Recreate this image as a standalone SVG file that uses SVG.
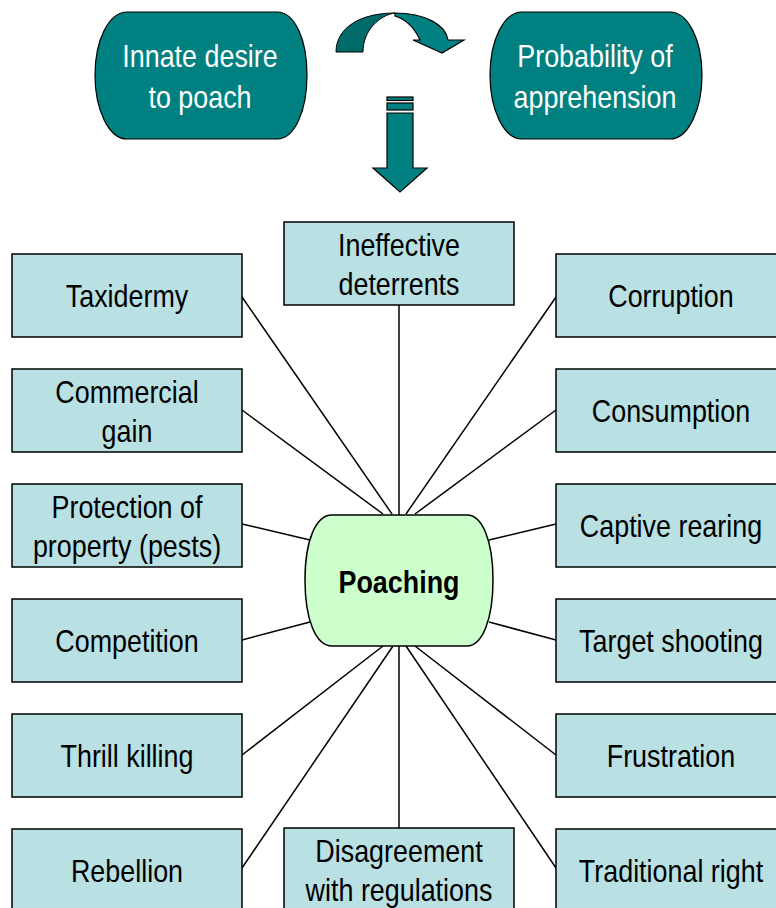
<svg xmlns="http://www.w3.org/2000/svg" width="776" height="908" viewBox="0 0 776 908">
<style>
.box{fill:#B9E0E3;stroke:#000;stroke-width:1.5}
.teal{fill:#008080;stroke:#000;stroke-width:1.2}
.dark{fill:#006A6A;stroke:#000;stroke-width:1}
.t{font-family:"Liberation Sans",Arial,sans-serif;font-size:32px;text-anchor:middle;fill:#000}
.w{fill:#fff}
.b{font-weight:bold}
#connectors line{stroke:#000;stroke-width:1.5}
</style>
<rect width="776" height="908" fill="#fff"/>

<g id="connectors">
<line x1="242" y1="297" x2="392" y2="514"/>
<line x1="242" y1="410" x2="383" y2="514"/>
<line x1="242" y1="524" x2="310" y2="540"/>
<line x1="242" y1="640" x2="310" y2="622"/>
<line x1="242" y1="755" x2="383" y2="646"/>
<line x1="242" y1="868" x2="393" y2="646"/>
<line x1="556" y1="297" x2="406" y2="514"/>
<line x1="556" y1="410" x2="415" y2="514"/>
<line x1="556" y1="524" x2="489" y2="540"/>
<line x1="556" y1="640" x2="489" y2="622"/>
<line x1="556" y1="755" x2="415" y2="646"/>
<line x1="556" y1="868" x2="406" y2="646"/>
<line x1="399" y1="305" x2="399" y2="515"/>
<line x1="399" y1="646" x2="399" y2="828"/>
</g>

<g id="curved-arrow">
<path class="dark" d="M336,52 C336,28 360,13 395,13 C380,15 363,30 363,52 Z"/>
<path class="teal" d="M395,13 C425,13 446,25 448,40 L464,40 L442,53 L413,40 L420,40 C414,27 405,19 395,16 Z"/>
</g>

<g id="down-arrow">
<rect class="teal" x="387" y="97" width="26" height="3.5"/>
<rect class="teal" x="387" y="103" width="26" height="7"/>
<path class="teal" d="M387,113 H413 V168 H427 L400,192 L373,168 H387 Z"/>
</g>

<g id="innate">
<path class="teal" d="M127,12 H277 C295,12 307,40 307,75 C307,110 295,139 277,139 H127 C109,139 95,110 95,75 C95,40 109,12 127,12 Z"/>
<text class="t w" x="238.1" y="67" transform="scale(0.84 1)">Innate desire</text>
<text class="t w" x="238.1" y="108" transform="scale(0.84 1)">to poach</text>
</g>

<g id="probability">
<path class="teal" d="M522,12 H670 C688,12 702,40 702,75 C702,110 688,139 670,139 H522 C504,139 490,110 490,75 C490,40 504,12 522,12 Z"/>
<text class="t w" x="708.3" y="67" transform="scale(0.84 1)">Probability of</text>
<text class="t w" x="708.3" y="108" transform="scale(0.84 1)">apprehension</text>
</g>

<g id="poaching">
<path d="M332,515 H467 C482,515 493,540 493,580 C493,620 482,646 467,646 H332 C316,646 305,620 305,580 C305,540 316,515 332,515 Z" fill="#CCFFCC" stroke="#000" stroke-width="1.5"/>
<text class="t b" x="475" y="593" transform="scale(0.84 1)">Poaching</text>
</g>

<g id="ineffective">
<rect class="box" x="284" y="222" width="230" height="83"/>
<text class="t" x="475" y="256" transform="scale(0.84 1)">Ineffective</text>
<text class="t" x="475" y="295" transform="scale(0.84 1)">deterrents</text>
</g>

<g id="disagreement">
<rect class="box" x="284" y="828" width="230" height="83"/>
<text class="t" x="475" y="862" transform="scale(0.84 1)">Disagreement</text>
<text class="t" x="475" y="901" transform="scale(0.84 1)">with regulations</text>
</g>

<g id="taxidermy">
<rect class="box" x="12" y="254" width="230" height="83"/>
<text class="t" x="151.2" y="307" transform="scale(0.84 1)">Taxidermy</text>
</g>
<g id="commercial">
<rect class="box" x="12" y="369" width="230" height="83"/>
<text class="t" x="151.2" y="403" transform="scale(0.84 1)">Commercial</text>
<text class="t" x="151.2" y="442" transform="scale(0.84 1)">gain</text>
</g>
<g id="protection">
<rect class="box" x="12" y="484" width="230" height="83"/>
<text class="t" x="151.2" y="518" transform="scale(0.84 1)">Protection of</text>
<text class="t" x="151.2" y="557" transform="scale(0.84 1)">property (pests)</text>
</g>
<g id="competition">
<rect class="box" x="12" y="599" width="230" height="83"/>
<text class="t" x="151.2" y="652" transform="scale(0.84 1)">Competition</text>
</g>
<g id="thrill">
<rect class="box" x="12" y="714" width="230" height="83"/>
<text class="t" x="151.2" y="767" transform="scale(0.84 1)">Thrill killing</text>
</g>
<g id="rebellion">
<rect class="box" x="12" y="829" width="230" height="83"/>
<text class="t" x="151.2" y="882" transform="scale(0.84 1)">Rebellion</text>
</g>

<g id="corruption">
<rect class="box" x="556" y="254" width="230" height="83"/>
<text class="t" x="798.8" y="307" transform="scale(0.84 1)">Corruption</text>
</g>
<g id="consumption">
<rect class="box" x="556" y="369" width="230" height="83"/>
<text class="t" x="798.8" y="422" transform="scale(0.84 1)">Consumption</text>
</g>
<g id="captive">
<rect class="box" x="556" y="484" width="230" height="83"/>
<text class="t" x="798.8" y="537" transform="scale(0.84 1)">Captive rearing</text>
</g>
<g id="target">
<rect class="box" x="556" y="599" width="230" height="83"/>
<text class="t" x="798.8" y="652" transform="scale(0.84 1)">Target shooting</text>
</g>
<g id="frustration">
<rect class="box" x="556" y="714" width="230" height="83"/>
<text class="t" x="798.8" y="767" transform="scale(0.84 1)">Frustration</text>
</g>
<g id="traditional">
<rect class="box" x="556" y="829" width="230" height="83"/>
<text class="t" x="798.8" y="882" transform="scale(0.84 1)">Traditional right</text>
</g>
</svg>
